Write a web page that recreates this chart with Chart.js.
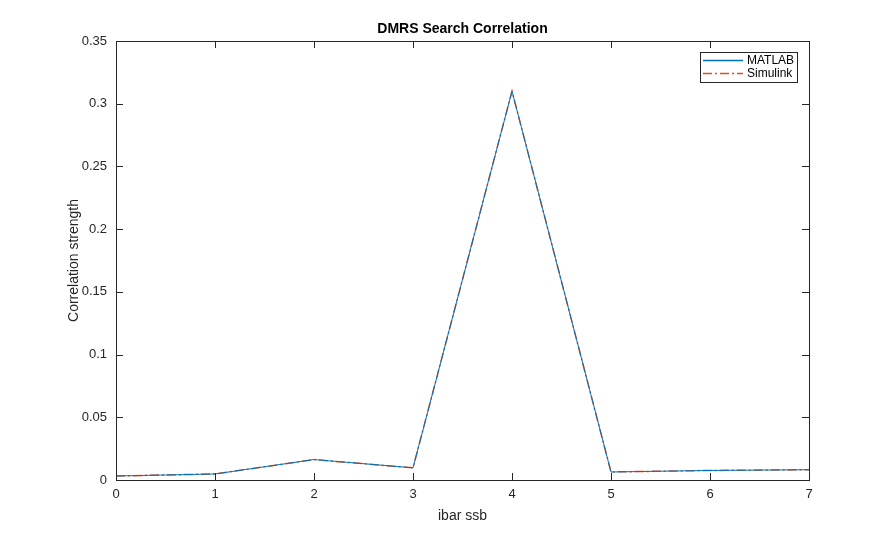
<!DOCTYPE html>
<html>
<head>
<meta charset="utf-8">
<script src="https://cdn.jsdelivr.net/npm/chart.js@4"></script>
<style>
  html, body { margin: 0; padding: 0; background: #fff; }
  #wrap { width: 895px; height: 540px; }
</style>
</head>
<body>
<div id="wrap"><canvas id="chart" width="895" height="540"></canvas></div>
<script>
// data
const ibarSsb = [0, 1, 2, 3, 4, 5, 6, 7];
const matlabCorr = [0.0032, 0.0048, 0.0163, 0.0097, 0.3100, 0.0064, 0.0076, 0.0082];
const simulinkCorr = [0.0032, 0.0048, 0.0163, 0.0097, 0.3100, 0.0064, 0.0076, 0.0082];
const yTicks = [0, 0.05, 0.1, 0.15, 0.2, 0.25, 0.3, 0.35];

const FONT = 'Helvetica, "Liberation Sans", Arial, sans-serif';
const AXIS = '#262626';

// frame, inward ticks on all four sides, title and legend (MATLAB look)
const matlabFrame = {
  id: 'matlabFrame',
  afterDraw(chart) {
    const { ctx, chartArea: a, scales } = chart;
    const x = scales.x, y = scales.y;
    ctx.save();
    ctx.strokeStyle = AXIS;
    ctx.lineWidth = 1;
    ctx.setLineDash([]);
    ctx.strokeRect(Math.round(a.left) + 0.5, Math.round(a.top) + 0.5,
      Math.round(a.right - a.left), Math.round(a.bottom - a.top));
    ctx.beginPath();
    ibarSsb.forEach((v) => {
      const px = Math.round(x.getPixelForValue(v)) + 0.5;
      ctx.moveTo(px, a.bottom); ctx.lineTo(px, a.bottom - 7);
      ctx.moveTo(px, a.top); ctx.lineTo(px, a.top + 7);
    });
    yTicks.forEach((v) => {
      const py = Math.round(y.getPixelForValue(v)) + 0.5;
      ctx.moveTo(a.left, py); ctx.lineTo(a.left + 7, py);
      ctx.moveTo(a.right, py); ctx.lineTo(a.right - 7, py);
    });
    ctx.stroke();

    // title
    ctx.fillStyle = '#000';
    ctx.font = 'bold 14px ' + FONT;
    ctx.textAlign = 'center';
    ctx.textBaseline = 'middle';
    ctx.fillText('DMRS Search Correlation', (a.left + a.right) / 2, 29);

    // legend
    const lx = 700, ly = 52, lw = 97, lh = 30;
    ctx.fillStyle = '#fff';
    ctx.fillRect(lx, ly, lw, lh);
    ctx.strokeStyle = AXIS;
    ctx.strokeRect(lx + 0.5, ly + 0.5, lw, lh);
    ctx.font = '12px ' + FONT;
    ctx.textAlign = 'left';
    chart.data.datasets.forEach((ds, i) => {
      const ry = Math.round(ly + 8 + i * 13) + 0.5;
      ctx.strokeStyle = ds.borderColor;
      ctx.lineWidth = 1.3;
      ctx.setLineDash(ds.borderDash || []);
      ctx.beginPath();
      ctx.moveTo(lx + 3, ry); ctx.lineTo(lx + 43, ry);
      ctx.stroke();
      ctx.setLineDash([]);
      ctx.fillStyle = '#000';
      ctx.fillText(ds.label, lx + 47, ry);
    });
    ctx.restore();
  }
};

new Chart(document.getElementById('chart').getContext('2d'), {
  type: 'line',
  data: {
    labels: ibarSsb,
    datasets: [
      {
        label: 'MATLAB',
        data: matlabCorr,
        borderColor: '#0072BD',
        borderWidth: 1,
        pointRadius: 0,
        tension: 0,
        fill: false
      },
      {
        label: 'Simulink',
        data: simulinkCorr,
        borderColor: '#D95319',
        borderWidth: 1.5,
        borderDash: [9, 3, 2, 3],
        pointRadius: 0,
        tension: 0,
        fill: false
      }
    ]
  },
  options: {
    responsive: false,
    animation: false,
    layout: { padding: { top: 41, right: 86, bottom: 0, left: 0 } },
    plugins: { legend: { display: false }, title: { display: false }, tooltip: { enabled: false } },
    scales: {
      x: {
        type: 'linear',
        min: 0,
        max: 7,
        afterBuildTicks: (s) => { s.ticks = ibarSsb.map((v) => ({ value: v })); },
        afterFit: (s) => { s.height = 60; },
        grid: { display: false, drawTicks: false },
        border: { display: false },
        ticks: { color: AXIS, font: { family: FONT, size: 13 }, padding: 7, maxRotation: 0 },
        title: { display: true, text: 'ibar ssb', color: AXIS, font: { family: FONT, size: 14 }, padding: { top: 4, bottom: 15 } }
      },
      y: {
        min: 0,
        max: 0.35,
        afterBuildTicks: (s) => { s.ticks = yTicks.map((v) => ({ value: v })); },
        afterFit: (s) => { s.width = 116; },
        grid: { display: false, drawTicks: false },
        border: { display: false },
        ticks: {
          color: AXIS,
          font: { family: FONT, size: 13 },
          padding: 9,
          callback: (v) => String(+v.toFixed(2))
        },
        title: { display: true, text: 'Correlation strength', color: AXIS, font: { family: FONT, size: 14 }, padding: { top: 66, bottom: 4 } }
      }
    }
  },
  plugins: [matlabFrame]
});
</script>
</body>
</html>
